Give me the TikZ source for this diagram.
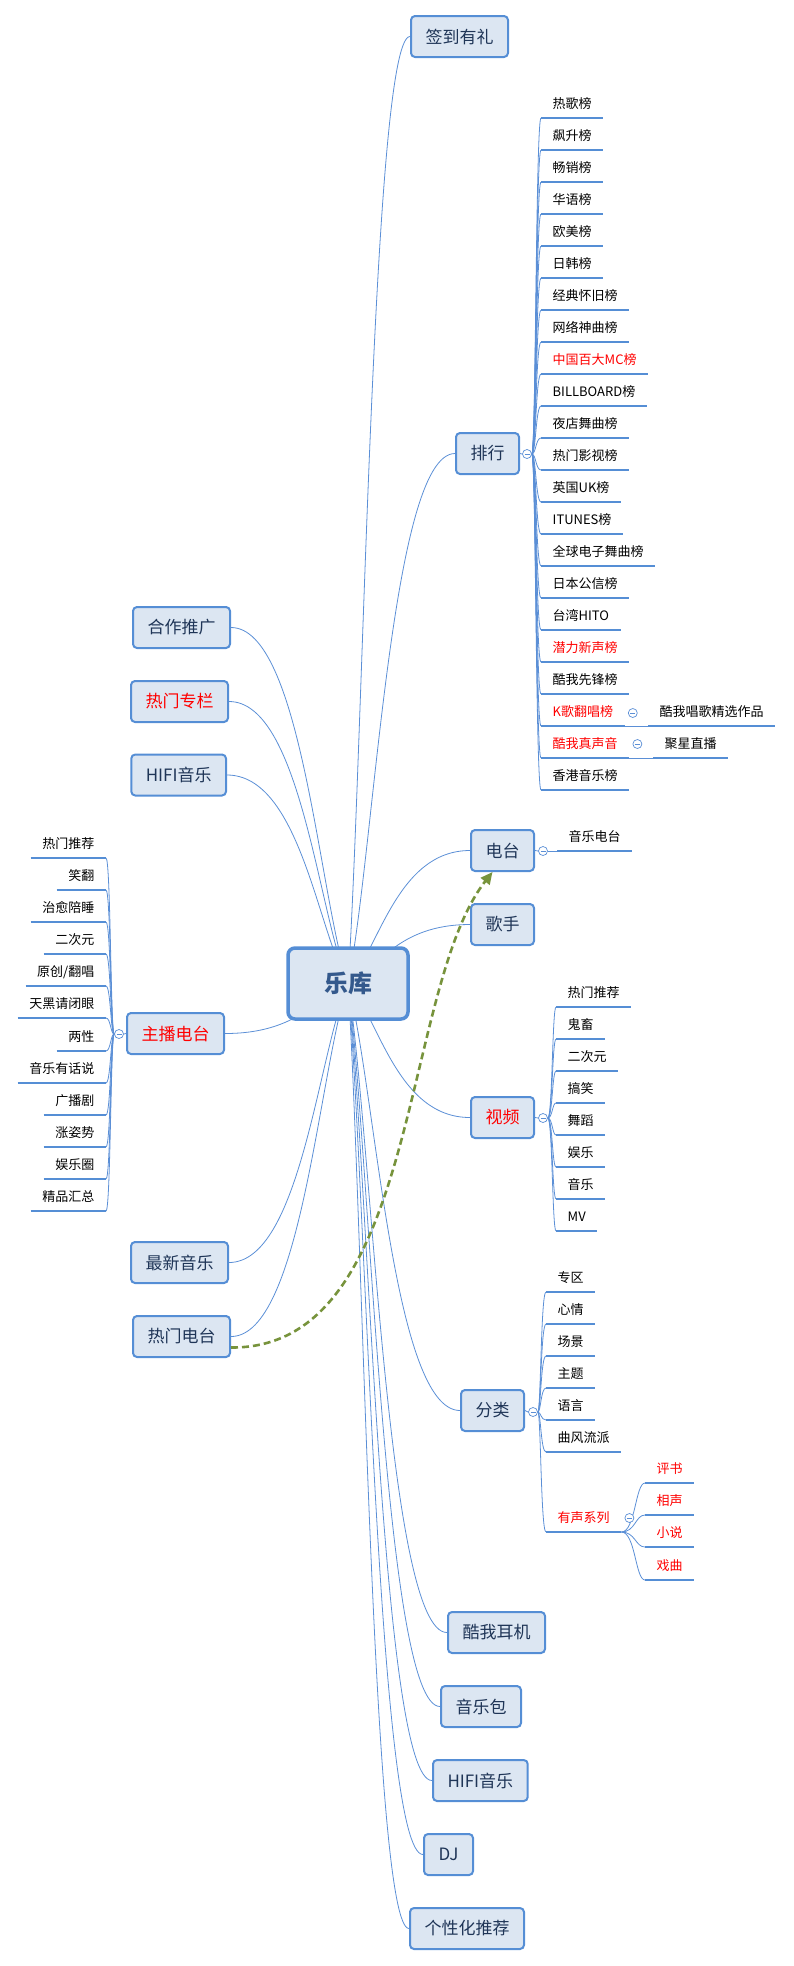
\documentclass[tikz,border=0pt]{standalone}
\usepackage{fontspec}
\setmainfont{Noto Sans CJK SC}
\usetikzlibrary{calc,backgrounds,arrows.meta}
\definecolor{lineblue}{HTML}{5B8FD6}
\definecolor{barblue}{HTML}{558ED5}
\definecolor{boxfill}{HTML}{DCE6F2}
\definecolor{boxtext}{HTML}{1F3557}
\definecolor{roottext}{HTML}{34598C}
\definecolor{arrowgreen}{HTML}{77933C}
\definecolor{hot}{HTML}{FF0000}
\begin{document}
\begin{tikzpicture}[x=1pt,y=-1pt,
  box/.style={draw=barblue, line width=2pt, fill=boxfill, rounded corners=4pt,
    minimum height=41pt, inner xsep=14.5pt, inner ysep=0pt,
    font=\fontsize{17}{20}\selectfont, text=boxtext},
  rootbox/.style={box, line width=3.5pt, rounded corners=7pt, minimum height=71pt,
    minimum width=120pt, inner xsep=6pt, font=\fontsize{24}{28}\selectfont\bfseries, text=roottext},
  bar/.style={draw=barblue, line width=2.3pt},
  leaf/.style={anchor=south west, inner xsep=11.5pt, inner ysep=0pt, text height=11pt,
    text depth=9pt, font=\fontsize{13}{15}\selectfont, text=black,
    append after command={\pgfextra{\let\leafnode=\tikzlastnode}
      (\leafnode.south west) edge[bar] (\leafnode.south east)}},
  lleaf/.style={leaf, anchor=south east},
  link/.style={draw=lineblue, line width=0.8pt},
  toggle/.style={circle, draw=lineblue, fill=white, line width=0.7pt, minimum size=9pt,
    inner sep=0pt, path picture={\draw[lineblue, line width=0.6pt]
      ([xshift=-2.5pt]path picture bounding box.center) -- ([xshift=2.5pt]path picture bounding box.center);}},
  rootlink/.style={to path={let \p1=(\tikztostart), \p2=(\tikztotarget) in
    .. controls ({\x1+0.25*(\x2-\x1)},{\y1+0.25*(\y2-\y1)}) and ({\x2-0.6*(\x2-\x1)},{\y2}) .. (\tikztotarget)}},
  sublink/.style={to path={let \p1=(\tikztostart), \p2=(\tikztotarget) in
    .. controls ({\x1+(#1)},{\y1}) and ({\x1+(#1)},{\y2}) .. (\tikztotarget)}},
  greenarrow/.style={draw=arrowgreen, line width=2.6pt, dash pattern=on 7pt off 4pt,
    -{Triangle[length=12pt,width=11pt]}}
]
\useasboundingbox (0,0) rectangle (793,1966);

% root
\node[rootbox] (root) at (348,983.5) {乐库};

% right first-level nodes
\node[box, anchor=west] (qd) at (410,36.5) {签到有礼};
\node[box, anchor=west] (ph) at (455,453.5) {排行};
\node[box, anchor=west] (dt) at (470,850.5) {电台};
\node[box, anchor=west] (gs) at (470,924.5) {歌手};
\node[box, anchor=west, text=hot] (sp) at (470,1117.5) {视频};
\node[box, anchor=west] (fl) at (460,1410.5) {分类};
\node[box, anchor=west] (ej) at (447,1632.5) {酷我耳机};
\node[box, anchor=west] (yyb) at (440,1706.5) {音乐包};
\node[box, anchor=west] (hifiR) at (432,1780.5) {HIFI音乐};
\node[box, anchor=west] (dj) at (423,1854.5) {DJ};
\node[box, anchor=west] (gxh) at (409,1928.5) {个性化推荐};

% left first-level nodes
\node[box, anchor=east] (hz) at (231,627.5) {合作推广};
\node[box, anchor=east, text=hot] (rmzl) at (229,701.5) {热门专栏};
\node[box, anchor=east] (hifiL) at (227,775) {HIFI音乐};
\node[box, anchor=east, text=hot] (zbdt) at (225,1033.5) {主播电台};
\node[box, anchor=east] (zxyy) at (229,1262.5) {最新音乐};
\node[box, anchor=east] (rmdt) at (231,1336.5) {热门电台};

% toggles
\node[toggle] (cph) at ($(ph.east)+(7,0.5)$) {};
\node[toggle] (cdt) at ($(dt.east)+(8,0.5)$) {};
\node[toggle] (csp) at ($(sp.east)+(8,0.5)$) {};
\node[toggle] (cfl) at ($(fl.east)+(8,1.5)$) {};
\node[toggle] (czb) at ($(zbdt.west)+(-7,0.5)$) {};

% 排行 children
\foreach \t/\yy/\col [count=\i] in {热歌榜/118/black, 飙升榜/150/black, 畅销榜/182/black,
  华语榜/214/black, 欧美榜/246/black, 日韩榜/278/black, 经典怀旧榜/310/black,
  网络神曲榜/342/black, 中国百大MC榜/374/hot, BILLBOARD榜/406/black, 夜店舞曲榜/438/black,
  热门影视榜/470/black, 英国UK榜/502/black, ITUNES榜/534/black, 全球电子舞曲榜/566/black,
  日本公信榜/598/black, 台湾HITO/630/black, 潜力新声榜/662/hot, 酷我先锋榜/694/black,
  K歌翻唱榜/726/hot, 酷我真声音/758/hot, 香港音乐榜/790/black}
  {\node[leaf, text=\col] (ph\i) at (541,\yy) {\t};}
\node[leaf] (jx) at (648,726) {酷我唱歌精选作品};
\node[leaf] (jxzb) at (653,758) {聚星直播};
\node[toggle] (ck) at ($(ph20.south east)+(8,-13)$) {};
\node[toggle] (cz) at ($(ph21.south east)+(8,-14)$) {};

% 电台 child
\node[leaf] (dtc) at (557,851) {音乐电台};

% 视频 children
\foreach \t/\yy [count=\i] in {热门推荐/1007, 鬼畜/1039, 二次元/1071, 搞笑/1103,
  舞蹈/1135, 娱乐/1167, 音乐/1199, MV/1231}
  {\node[leaf] (sp\i) at (556,\yy) {\t};}

% 分类 children
\foreach \t/\yy/\col [count=\i] in {专区/1292/black, 心情/1324/black, 场景/1356/black,
  主题/1388/black, 语言/1420/black, 曲风流派/1452/black, 有声系列/1532/hot}
  {\node[leaf, text=\col] (fl\i) at (546,\yy) {\t};}
\node[toggle] (cys) at ($(fl7.south east)+(8,-14)$) {};
\foreach \t/\yy [count=\i] in {评书/1483, 相声/1515, 小说/1547, 戏曲/1580}
  {\node[leaf, text=hot] (ys\i) at (645,\yy) {\t};}

% 主播电台 children
\foreach \t/\yy [count=\i] in {热门推荐/858, 笑翻/890, 治愈陪睡/922, 二次元/954,
  {原创/翻唱}/986, 天黑请闭眼/1018, 两性/1051, 音乐有话说/1083, 广播剧/1115,
  涨姿势/1147, 娱乐圈/1179, 精品汇总/1211}
  {\node[lleaf] (zb\i) at (106,\yy) {\t};}

% connectors
\begin{scope}[on background layer]
  \foreach \nm in {qd,ph,dt,gs,sp,fl,ej,yyb,hifiR,dj,gxh}
    {\draw[link] (root.center) to[rootlink] (\nm.west);}
  \foreach \nm in {hz,rmzl,hifiL,zbdt,zxyy,rmdt}
    {\draw[link] (root.center) to[rootlink] (\nm.east);}
  \draw[link] (ph.east) -- (cph.west);
  \draw[link] (dt.east) -- (cdt.west);
  \draw[link] (sp.east) -- (csp.west);
  \draw[link] (fl.east) -- (cfl.west);
  \draw[link] (zbdt.west) -- (czb.east);
  \foreach \i in {1,...,22}
    {\draw[link] (cph.east) to[sublink=4] (ph\i.south west);}
  \draw[link] (ph20.south east) -- (jx.south west);
  \draw[link] (ph21.south east) -- (jxzb.south west);
  \draw[link] (cdt.east) -- (dtc.south west);
  \foreach \i in {1,...,8}
    {\draw[link] (csp.east) to[sublink=4.5] (sp\i.south west);}
  \foreach \i in {1,...,7}
    {\draw[link] (cfl.east) to[sublink=3] (fl\i.south west);}
  \foreach \i in {1,...,4}
    {\draw[link] (fl7.south east) to[sublink=14] (ys\i.south west);}
  \foreach \i in {1,...,12}
    {\draw[link] (czb.west) to[sublink=-3.5] (zb\i.south east);}
\end{scope}

% green dashed relation
\draw[greenarrow] ($(rmdt.east)+(0,11)$) .. controls (420,1349) and (400,990) .. ($(dt.south)+(-10,0)$);
\end{tikzpicture}
\end{document}
